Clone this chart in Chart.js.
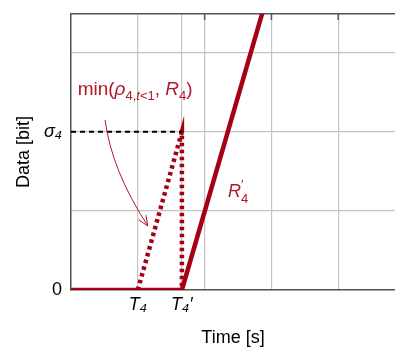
<!DOCTYPE html>
<html>
<head>
<meta charset="utf-8">
<script src="https://cdn.jsdelivr.net/npm/chart.js@4.4.1/dist/chart.umd.min.js"></script>
<style>
  html, body { margin: 0; padding: 0; background: #fff; }
  #wrap { width: 395px; height: 347px; }
</style>
</head>
<body>
<div id="wrap"><canvas id="dataChart"></canvas></div>
<script>
// Key instants / levels (in grid units)
const T4 = 1.0;
const T4p = 1.66;
const sigma4 = 2.0;

// Thick solid curve R'_4
const solidTime = [0, T4p, 3.0];
const solidData = [0, 0, 3.9];

// Dotted curve min(rho, R) and its drop back to zero
const dotTime = [T4, T4p, T4p];
const dotData = [0, sigma4, 0];

// Black dashed level sigma_4
const dashTime = [0, T4p];
const dashData = [sigma4, sigma4];

// Tick positions and labels
const xTickValues = [0, 1, T4p, 2, 3, 4];
const xTickLabels = { 1: 'T\u2084', 1.66: 'T\u2084\u2032' };
const yTickValues = [0, 1, 2, 3];
const yTickLabels = { 0: '0', 2: '\u03c3\u2084' };

const RED = '#a50014';
const TEXT_RED = '#b01828';
const FONT = '"Liberation Sans", Arial, sans-serif';

const toPoints = (xs, ys) => xs.map((x, i) => ({ x: x, y: ys[i] }));

// draws text made of pieces (italic / sub / sup)
function drawRich(ctx, x, y, parts, color) {
    let cx = x;
    ctx.fillStyle = color;
    ctx.textBaseline = 'alphabetic';
    ctx.textAlign = 'left';
    parts.forEach(p => {
        const size = p.size || 18;
        ctx.font = (p.it ? 'italic ' : '') + size + 'px ' + FONT;
        ctx.fillText(p.t, cx, y + (p.dy || 0));
        if (!p.stay) cx += ctx.measureText(p.t).width;
    });
}

const annotations = {
    id: 'annotations',
    afterDatasetsDraw(chart) {
        const { ctx, scales: { x, y } } = chart;
        ctx.save();
        // formula label
        drawRich(ctx, x.getPixelForValue(0.1), y.getPixelForValue(2.46), [
            { t: 'min(', size: 19 },
            { t: '\u03c1', it: true, size: 19 },
            { t: '4,', size: 13, dy: 5 },
            { t: 't', size: 13, dy: 5, it: true },
            { t: '<1', size: 13, dy: 5 },
            { t: ', ', size: 19 },
            { t: 'R', it: true, size: 19 },
            { t: '4', size: 13, dy: 5 },
            { t: ')', size: 19 }
        ], TEXT_RED);
        // R'_4 label
        drawRich(ctx, x.getPixelForValue(2.35), y.getPixelForValue(1.18), [
            { t: 'R', it: true },
            { t: '\u2032', size: 13, dy: -8, stay: true },
            { t: '4', size: 13, dy: 6 }
        ], TEXT_RED);

        // thin curved arrow
        const p0 = [x.getPixelForValue(0.51), y.getPixelForValue(2.15)];
        const c1 = [x.getPixelForValue(0.61), y.getPixelForValue(1.51)];
        const p2 = [x.getPixelForValue(1.15), y.getPixelForValue(0.81)];
        ctx.strokeStyle = TEXT_RED;
        ctx.lineWidth = 1;
        ctx.beginPath();
        ctx.moveTo(p0[0], p0[1]);
        ctx.quadraticCurveTo(c1[0], c1[1], p2[0], p2[1]);
        ctx.stroke();
        const ang = Math.atan2(p2[1] - c1[1], p2[0] - c1[0]);
        ctx.beginPath();
        [0.4, -0.4].forEach(d => {
            ctx.moveTo(p2[0], p2[1]);
            ctx.lineTo(p2[0] - 11 * Math.cos(ang + d), p2[1] - 11 * Math.sin(ang + d));
        });
        ctx.stroke();

        // small inner tick marks on the top border
        const top = chart.chartArea.top;
        ctx.strokeStyle = '#555';
        ctx.lineWidth = 1.5;
        ctx.beginPath();
        [2, 3, 4].forEach(v => {
            const px = x.getPixelForValue(v);
            ctx.moveTo(px, top);
            ctx.lineTo(px, top + 6);
        });
        ctx.stroke();
        ctx.restore();
    }
};

const ctx = document.getElementById('dataChart').getContext('2d');

const config = {
    type: 'scatter',
    data: {
        datasets: [
            {
                data: toPoints(dashTime, dashData),
                showLine: true,
                borderColor: '#000',
                borderWidth: 2,
                borderDash: [5, 4],
                pointRadius: 0,
                clip: 0
            },
            {
                data: toPoints(dotTime, dotData),
                showLine: true,
                borderColor: RED,
                borderWidth: 4.5,
                borderDash: [3.5, 3.5],
                pointRadius: 0,
                clip: 0
            },
            {
                data: toPoints(solidTime, solidData),
                showLine: true,
                borderColor: RED,
                borderWidth: 4.5,
                pointRadius: 0,
                clip: 0
            }
        ]
    },
    options: {
        responsive: true,
        maintainAspectRatio: false,
        animation: false,
        layout: { padding: 0 },
        plugins: {
            legend: { display: false },
            tooltip: { enabled: false }
        },
        scales: {
            x: {
                type: 'linear',
                min: 0,
                max: 4.85,
                afterBuildTicks: s => { s.ticks = xTickValues.map(v => ({ value: v })); },
                afterFit: s => { s.height = 57; s.paddingLeft = 0; s.paddingRight = 0; },
                ticks: {
                    autoSkip: false,
                    maxRotation: 0,
                    padding: 4,
                    color: '#000',
                    font: { size: 18, style: 'italic', family: FONT },
                    callback: v => xTickLabels[v] || ''
                },
                grid: { color: '#c4c4c4', lineWidth: 1.2, drawTicks: false },
                border: { color: '#555', width: 1.5 },
                title: {
                    display: true,
                    text: 'Time [s]',
                    color: '#000',
                    font: { size: 18, family: FONT, lineHeight: 1 },
                    padding: { top: 0, bottom: 0 }
                }
            },
            xTop: {
                type: 'linear',
                position: 'top',
                min: 0,
                max: 4.85,
                afterFit: s => { s.height = 14; s.paddingLeft = 0; s.paddingRight = 0; },
                ticks: { display: false },
                grid: { display: false },
                border: { color: '#555', width: 1.5 }
            },
            y: {
                type: 'linear',
                min: 0,
                max: 3.49,
                afterBuildTicks: s => { s.ticks = yTickValues.map(v => ({ value: v })); },
                afterFit: s => { s.width = 71; s.paddingTop = 0; s.paddingBottom = 0; },
                ticks: {
                    autoSkip: false,
                    padding: 9,
                    color: '#000',
                    font: c => ({
                        size: 18,
                        family: FONT,
                        style: (c.tick && c.tick.value === sigma4) ? 'italic' : 'normal'
                    }),
                    callback: v => yTickLabels[v] || ''
                },
                grid: { color: '#c4c4c4', lineWidth: 1.2, drawTicks: false },
                border: { color: '#555', width: 1.5 },
                title: {
                    display: true,
                    text: 'Data [bit]',
                    color: '#000',
                    font: { size: 18, family: FONT, lineHeight: 1 },
                    padding: { top: 15, bottom: 0 }
                }
            }
        }
    },
    plugins: [annotations]
};

const dataChart = new Chart(ctx, config);
</script>
</body>
</html>
